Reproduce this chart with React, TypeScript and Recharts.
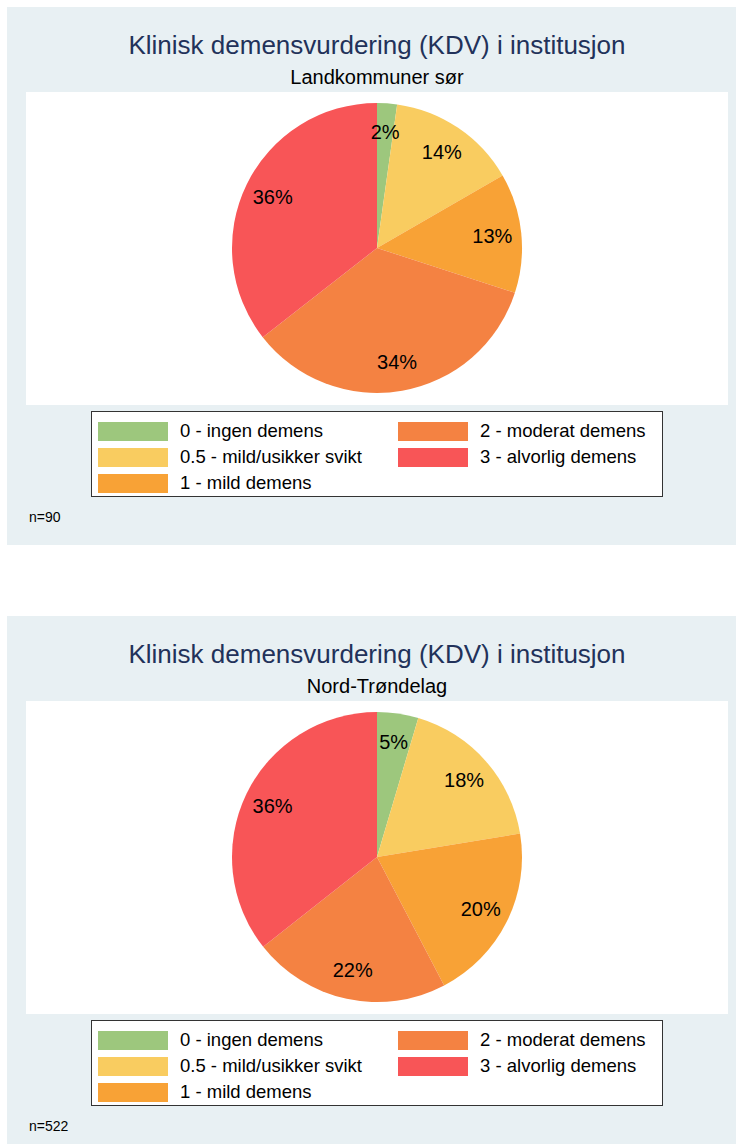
import React from 'react';
import { PieChart, Pie, Cell } from 'recharts';

const categories = [
  '0 - ingen demens',
  '0.5 - mild/usikker svikt',
  '1 - mild demens',
  '2 - moderat demens',
  '3 - alvorlig demens',
];
const colors = ['#9dc77d', '#f9cc60', '#f8a236', '#f48242', '#f85557'];
const landkommunerSor = [2, 13, 12, 31, 32];
const nordTrondelag = [24, 93, 104, 115, 186];
const chartTitle = 'Klinisk demensvurdering (KDV) i institusjon';
const subtitles = ['Landkommuner sør', 'Nord-Trøndelag'];
const nLabels = ['n=90', 'n=522'];

const FONT = '"Liberation Sans", Arial, Helvetica, sans-serif';
const RAD = Math.PI / 180;

function makeLabel(total: number) {
  return (props: any) => {
    const { cx, cy, midAngle, outerRadius, value } = props;
    const r = outerRadius * 0.8;
    const x = cx + r * Math.cos(-midAngle * RAD);
    const y = cy + r * Math.sin(-midAngle * RAD);
    return (
      <text
        x={x}
        y={y}
        textAnchor="middle"
        dominantBaseline="central"
        fontSize={20}
        fill="#000"
        fontFamily={FONT}
      >
        {Math.round((value / total) * 100)}%
      </text>
    );
  };
}

function Panel({ top, values, subtitle, nLabel }: { top: number; values: number[]; subtitle: string; nLabel: string }) {
  const data = categories.map((name, i) => ({ name, value: values[i] }));
  const total = values.reduce((a, b) => a + b, 0);
  return (
    <div style={{ position: 'absolute', left: 7, top, width: 729, height: 538, background: '#e8f0f3', fontFamily: FONT }}>
      <div style={{ position: 'absolute', left: 0, width: 740, top: 23, height: 30, lineHeight: '30px', textAlign: 'center', fontSize: 26, color: '#22325a' }}>
        {chartTitle}
      </div>
      <div style={{ position: 'absolute', left: 0, width: 740, top: 58, height: 24, lineHeight: '24px', textAlign: 'center', fontSize: 20, color: '#000' }}>
        {subtitle}
      </div>
      <div style={{ position: 'absolute', left: 19, top: 85, width: 702, height: 313, background: '#fff' }}>
        <PieChart width={702} height={313} margin={{ top: 0, right: 0, bottom: 0, left: 0 }}>
          <Pie
            data={data}
            dataKey="value"
            nameKey="name"
            cx={351}
            cy={156}
            outerRadius={145}
            startAngle={90}
            endAngle={-270}
            stroke="none"
            labelLine={false}
            label={makeLabel(total)}
            isAnimationActive={false}
          >
            {data.map((d, i) => (
              <Cell key={d.name} fill={colors[i]} stroke="none" />
            ))}
          </Pie>
        </PieChart>
      </div>
      <div
        style={{
          position: 'absolute',
          left: 84,
          top: 404,
          width: 572,
          height: 86,
          background: '#fff',
          border: '1px solid #333',
          display: 'grid',
          gridTemplateRows: 'repeat(3, 26px)',
          gridTemplateColumns: '300px 270px',
          gridAutoFlow: 'column',
          paddingTop: 6,
          paddingLeft: 6,
          boxSizing: 'border-box',
        }}
      >
        {categories.map((c, i) => (
          <div key={c} style={{ display: 'flex', alignItems: 'center', height: 26 }}>
            <div style={{ width: 70, height: 19, background: colors[i], flex: 'none' }} />
            <span style={{ marginLeft: 12, fontSize: 18.5, color: '#000', whiteSpace: 'nowrap' }}>{c}</span>
          </div>
        ))}
      </div>
      <div style={{ position: 'absolute', left: 22, top: 501, height: 18, lineHeight: '18px', fontSize: 14, color: '#000' }}>
        {nLabel}
      </div>
    </div>
  );
}

export default function App() {
  return (
    <div style={{ position: 'absolute', left: 0, top: 0, width: 736, height: 1144, background: '#fff', overflow: 'hidden' }}>
      <Panel top={7} values={landkommunerSor} subtitle={subtitles[0]} nLabel={nLabels[0]} />
      <Panel top={616} values={nordTrondelag} subtitle={subtitles[1]} nLabel={nLabels[1]} />
    </div>
  );
}
